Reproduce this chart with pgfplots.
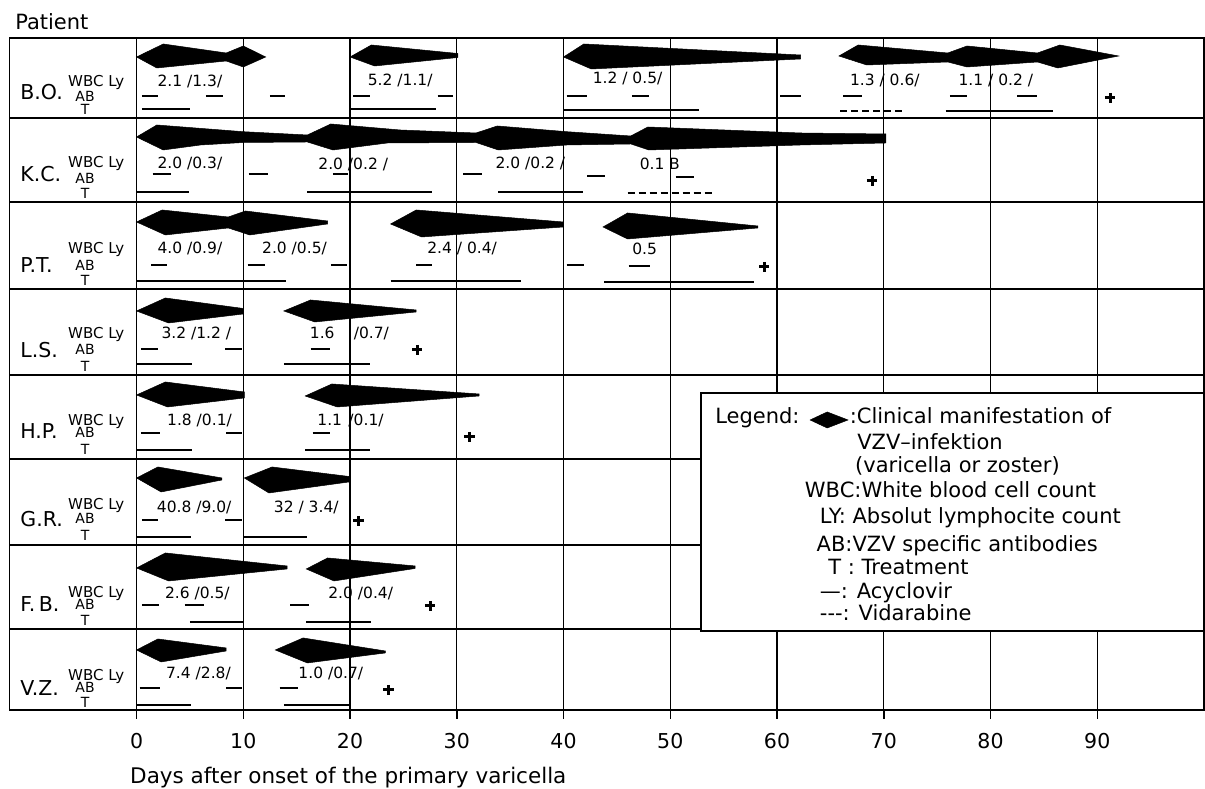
\documentclass[border=0pt]{standalone}
\usepackage{pgfplots}
\pgfplotsset{compat=1.18}
\usepackage{fontspec}
\setmainfont{DejaVu Sans}
\newcommand\fs[1]{\fontsize{#1bp}{#1bp}\selectfont}
\pgfplotsset{
  les/.style={fill=black, draw=black, line width=0.5bp, mark=none},
  seg/.style={black, line width=2.9bp, mark=none, unbounded coords=jump},
  vid/.style={black, line width=2.9bp, mark=none, dash pattern=on 7bp off 4bp},
  dead/.style={black, only marks, mark=+, mark size=5.2bp, mark options={line width=3bp}},
}
\begin{document}
\begin{tikzpicture}
\begin{axis}[
  name=ax,
  x=10.675bp, y=1bp,
  xmin=-11.92, xmax=100, ymin=-710, ymax=-38,
  clip=false,
  axis line style={line width=1.5bp},
  xtick={0,10,...,90},
  xtick pos=bottom,
  tick align=outside,
  major tick length=9bp,
  xtick style={line width=1.5bp, black},
  ytick={-629,-545,-459,-375,-289,-202,-118},
  yticklabels={},
  ytick style={draw=none},
  xmajorgrids, ymajorgrids,
  major grid style={line width=1.4bp, black},
  /pgf/number format/assume math mode=true,
  xticklabel style={font=\fs{20.5}, inner sep=0pt, yshift=-14bp},
]
% ---------------- lesions (clinical manifestation) ----------------
% B.O.
\addplot[les] coordinates {(0,-57) (2.5,-44) (8.4,-53) (10,-46) (12.1,-57) (10,-67) (8.4,-61) (1.9,-68)} --cycle;
\addplot[les] coordinates {(20,-57) (22,-45) (30.1,-53.5) (30.1,-57.5) (22.3,-66)} --cycle;
\addplot[les] coordinates {(40,-57) (41.9,-44) (62.2,-55) (62.2,-59) (42.6,-69)} --cycle;
\addplot[les] coordinates {(65.8,-56) (67.6,-45) (76,-53) (77.8,-46) (84.4,-53) (86.5,-45) (92,-56) (86.3,-68) (84.4,-62) (77.8,-67) (76,-62) (68.4,-65)} --cycle;
% K.C.
\addplot[les] coordinates {(0,-137) (1.9,-125) (10,-131.7) (16,-135) (18.2,-124) (24.7,-130) (31.8,-133) (33.8,-126) (40.3,-131.7) (46.3,-136) (47.9,-127) (62.2,-133) (70.2,-134)
  (70.2,-143) (62.2,-145) (48,-150) (46.3,-144) (40.3,-145) (33.9,-150) (31.8,-142.5) (23.5,-143) (18.4,-150) (16,-142) (10,-142.5) (6,-145) (2.5,-150)} --cycle;
% P.T.
\addplot[les] coordinates {(0,-222) (2.4,-210) (8.6,-217) (10.2,-211) (17.9,-221) (17.9,-224) (10.6,-235) (8.6,-228) (2.7,-235)} --cycle;
\addplot[les] coordinates {(23.8,-224) (26.2,-210) (40,-222) (40,-227) (26.7,-237)} --cycle;
\addplot[les] coordinates {(43.7,-227) (46,-213) (58.2,-226) (58.2,-228) (46,-239)} --cycle;
% L.S.
\addplot[les] coordinates {(0,-311) (2.7,-298) (10,-308.5) (10,-314) (3,-323)} --cycle;
\addplot[les] coordinates {(13.8,-311) (16.3,-300) (26.2,-310) (26.2,-312) (16.7,-322)} --cycle;
% H.P.
\addplot[les] coordinates {(0,-395) (2.7,-382) (10.1,-392) (10.1,-398) (2.9,-407)} --cycle;
\addplot[les] coordinates {(15.8,-396) (18.3,-384) (32.1,-394) (32.1,-396) (18.8,-407)} --cycle;
% G.R.
\addplot[les] coordinates {(0,-478) (2.0,-467) (8.0,-478) (8.0,-480) (2.3,-492)} --cycle;
\addplot[les] coordinates {(10.1,-478) (12.7,-467) (19.9,-476.5) (19.9,-482) (12.4,-493)} --cycle;
% F.B.
\addplot[les] coordinates {(0,-568) (2.7,-553) (14.1,-566) (14.1,-569) (3.0,-581)} --cycle;
\addplot[les] coordinates {(15.9,-569) (17.9,-558) (26.1,-566) (26.1,-568.5) (18.5,-581)} --cycle;
% V.Z.
\addplot[les] coordinates {(0,-650) (2.0,-639) (8.4,-648) (8.4,-651) (2.3,-662)} --cycle;
\addplot[les] coordinates {(13,-650) (15.6,-638) (23.3,-651) (23.3,-653) (16,-663)} --cycle;

% ---------------- AB determinations ----------------
\addplot[seg] coordinates {(0.5,-96) (2.0,-96) (0,nan) (6.5,-96) (8.1,-96) (0,nan) (12.5,-96) (13.9,-96) (0,nan) (20.3,-96) (21.9,-96) (0,nan) (28.2,-96) (29.6,-96) (0,nan) (40.3,-96) (42.2,-96) (0,nan) (46.4,-96) (48.0,-96) (0,nan) (60.3,-96) (62.2,-96) (0,nan) (66.2,-96) (68.0,-96) (0,nan) (76.2,-96) (77.8,-96) (0,nan) (82.5,-96) (84.4,-96)};
\addplot[seg] coordinates {(1.5,-174) (3.2,-174) (0,nan) (10.5,-174) (12.3,-174) (0,nan) (18.4,-174) (19.8,-174) (0,nan) (30.6,-174) (32.4,-174) (0,nan) (42.2,-176) (43.9,-176) (0,nan) (50.5,-177) (52.2,-177)};
\addplot[seg] coordinates {(1.4,-265) (2.9,-265) (0,nan) (10.4,-265) (12.0,-265) (0,nan) (18.2,-265) (19.7,-265) (0,nan) (26.2,-265) (27.7,-265) (0,nan) (40.3,-265) (41.9,-265) (0,nan) (46.1,-266) (48.1,-266)};
\addplot[seg] coordinates {(0.4,-349) (2.0,-349) (0,nan) (8.3,-349) (9.9,-349) (0,nan) (16.3,-349) (18.1,-349)};
\addplot[seg] coordinates {(0.4,-433) (2.2,-433) (0,nan) (8.4,-433) (9.9,-433) (0,nan) (16.5,-433) (18.1,-433)};
\addplot[seg] coordinates {(0.5,-520) (2.0,-520) (0,nan) (8.3,-520) (9.9,-520)};
\addplot[seg] coordinates {(0.5,-605) (2.1,-605) (0,nan) (4.5,-605) (6.3,-605) (0,nan) (14.4,-605) (16.2,-605)};
\addplot[seg] coordinates {(0.3,-688) (2.2,-688) (0,nan) (8.4,-688) (9.9,-688) (0,nan) (13.4,-688) (15.1,-688)};

% ---------------- treatment: acyclovir ----------------
\addplot[seg] coordinates {(0.5,-109) (5.0,-109) (0,nan) (20,-109) (28.1,-109) (0,nan) (40,-110) (52.7,-110) (0,nan) (75.8,-111) (85.9,-111)};
\addplot[seg] coordinates {(0,-192) (4.9,-192) (0,nan) (16,-192) (27.7,-192) (0,nan) (33.9,-192) (41.8,-192)};
\addplot[seg] coordinates {(0,-281) (14,-281) (0,nan) (23.8,-281) (36,-281) (0,nan) (43.8,-282) (57.8,-282)};
\addplot[seg] coordinates {(0,-364) (5.2,-364) (0,nan) (13.8,-364) (21.9,-364)};
\addplot[seg] coordinates {(0,-450) (5.2,-450) (0,nan) (15.8,-450) (21.9,-450)};
\addplot[seg] coordinates {(0,-537) (5.1,-537) (0,nan) (10.1,-537) (16,-537)};
\addplot[seg] coordinates {(5.0,-622) (10.1,-622) (0,nan) (15.9,-622) (22.0,-622)};
\addplot[seg] coordinates {(0,-705) (5.1,-705) (0,nan) (13.8,-705) (19.9,-705)};
% ---------------- treatment: vidarabine ----------------
\addplot[vid] coordinates {(65.9,-111) (71.7,-111)};
\addplot[vid] coordinates {(46,-193) (54.1,-193)};
% ---------------- death ----------------
\addplot[dead] coordinates {(91.2,-98) (68.9,-181) (58.8,-267) (26.3,-350) (31.2,-437) (20.8,-521) (27.5,-606) (23.6,-690)};

% ---------------- WBC / Ly values ----------------
\begin{scope}[every node/.style={font=\fs{15.5}, anchor=base, inner sep=0pt}]
\node at (axis cs:5.0,-86.5) {2.1 /1.3/};
\node at (axis cs:24.7,-85.5) {5.2 /1.1/};
\node at (axis cs:46.0,-83.5) {1.2 / 0.5/};
\node at (axis cs:70.1,-85.5) {1.3 / 0.6/};
\node at (axis cs:80.5,-85.5) {1.1 / 0.2 /};
\node at (axis cs:5.0,-168.5) {2.0 /0.3/};
\node at (axis cs:20.3,-169.5) {2.0 /0.2 /};
\node at (axis cs:36.9,-168.5) {2.0 /0.2 /};
\node at (axis cs:48.3,-169.5) {0.1};
\node at (axis cs:50.4,-169.5) {B};
\node at (axis cs:5.0,-253.5) {4.0 /0.9/};
\node at (axis cs:14.8,-253.5) {2.0 /0.5/};
\node at (axis cs:30.5,-253.5) {2.4 / 0.4/};
\node at (axis cs:47.6,-254.5) {0.5};
\node at (axis cs:5.6,-338.5) {3.2 /1.2 /};
\node at (axis cs:17.4,-338.5) {1.6};
\node at (axis cs:22.0,-338.5) {/0.7/};
\node at (axis cs:5.9,-425.5) {1.8 /0.1/};
\node at (axis cs:18.1,-425.5) {1.1};
\node at (axis cs:21.5,-425.5) {/0.1/};
\node at (axis cs:5.4,-512.5) {40.8 /9.0/};
\node at (axis cs:15.9,-512.5) {32 / 3.4/};
\node at (axis cs:5.7,-598.5) {2.6 /0.5/};
\node at (axis cs:21.0,-598.5) {2.0 /0.4/};
\node at (axis cs:5.8,-678.5) {7.4 /2.8/};
\node at (axis cs:18.2,-678.5) {1.0 /0.7/};
\end{scope}

% ---------------- row labels ----------------
\begin{scope}[every node/.style={inner sep=0pt}]
\node[font=\fs{20.5}, anchor=base west] at (axis cs:-10.9,-99.3) {B.O.};
\node[font=\fs{15}, anchor=base west] at (axis cs:-6.42,-86.3) {WBC Ly};
\node[font=\fs{14}, anchor=base] at (axis cs:-4.82,-102) {AB};
\node[font=\fs{14}, anchor=base] at (axis cs:-4.82,-115) {T};

\node[font=\fs{20.5}, anchor=base west] at (axis cs:-10.9,-181.3) {K.C.};
\node[font=\fs{15}, anchor=base west] at (axis cs:-6.42,-167.3) {WBC Ly};
\node[font=\fs{14}, anchor=base] at (axis cs:-4.82,-184) {AB};
\node[font=\fs{14}, anchor=base] at (axis cs:-4.82,-199) {T};

\node[font=\fs{20.5}, anchor=base west] at (axis cs:-10.9,-272.3) {P.T.};
\node[font=\fs{15}, anchor=base west] at (axis cs:-6.42,-253.3) {WBC Ly};
\node[font=\fs{14}, anchor=base] at (axis cs:-4.82,-271) {AB};
\node[font=\fs{14}, anchor=base] at (axis cs:-4.82,-286) {T};

\node[font=\fs{20.5}, anchor=base west] at (axis cs:-10.9,-357.3) {L.S.};
\node[font=\fs{15}, anchor=base west] at (axis cs:-6.42,-338.3) {WBC Ly};
\node[font=\fs{14}, anchor=base] at (axis cs:-4.82,-355) {AB};
\node[font=\fs{14}, anchor=base] at (axis cs:-4.82,-372) {T};

\node[font=\fs{20.5}, anchor=base west] at (axis cs:-10.9,-438.3) {H.P.};
\node[font=\fs{15}, anchor=base west] at (axis cs:-6.42,-425.3) {WBC Ly};
\node[font=\fs{14}, anchor=base] at (axis cs:-4.82,-438) {AB};
\node[font=\fs{14}, anchor=base] at (axis cs:-4.82,-455) {T};

\node[font=\fs{20.5}, anchor=base west] at (axis cs:-10.9,-526.3) {G.R.};
\node[font=\fs{15}, anchor=base west] at (axis cs:-6.42,-509.3) {WBC Ly};
\node[font=\fs{14}, anchor=base] at (axis cs:-4.82,-524) {AB};
\node[font=\fs{14}, anchor=base] at (axis cs:-4.82,-541) {T};

\node[font=\fs{20.5}, anchor=base west] at (axis cs:-10.9,-611.3) {F.\,B.};
\node[font=\fs{15}, anchor=base west] at (axis cs:-6.42,-597.3) {WBC Ly};
\node[font=\fs{14}, anchor=base] at (axis cs:-4.82,-610) {AB};
\node[font=\fs{14}, anchor=base] at (axis cs:-4.82,-626) {T};

\node[font=\fs{20.5}, anchor=base west] at (axis cs:-10.9,-695.3) {V.Z.};
\node[font=\fs{15}, anchor=base west] at (axis cs:-6.42,-680.3) {WBC Ly};
\node[font=\fs{14}, anchor=base] at (axis cs:-4.82,-693) {AB};
\node[font=\fs{14}, anchor=base] at (axis cs:-4.82,-708) {T};

\node[font=\fs{21}, anchor=base west] at (axis cs:-11.38,-29.3) {Patient};
\node[font=\fs{21.5}, anchor=base west] at (axis cs:-0.61,-783.3) {Days after onset of the primary varicella};
\end{scope}

% ---------------- legend ----------------
\draw[fill=white, line width=1.5bp] (axis cs:52.9,-393) rectangle (axis cs:100,-631);
\addplot[les] coordinates {(63.1,-420) (64.7,-412) (66.65,-420) (64.7,-428)} --cycle;
\begin{scope}[every node/.style={font=\fs{21}, anchor=base west, inner sep=0pt}]
\node at (axis cs:54.2,-424) {Legend:};
\node at (axis cs:66.8,-424) {:Clinical manifestation of};
\node at (axis cs:67.5,-450) {VZV--infektion};
\node at (axis cs:67.3,-473) {(varicella or zoster)};
\node at (axis cs:62.6,-498) {WBC:White blood cell count};
\node at (axis cs:64.0,-524) {LY: Absolut lymphocite count};
\node at (axis cs:63.7,-552) {AB:VZV specific antibodies};
\node at (axis cs:64.8,-575) {T : Treatment};
\node at (axis cs:64.0,-599) {—: Acyclovir};
\node at (axis cs:64.0,-621) {-{}-{}-: Vidarabine};
\end{scope}
\end{axis}
\pgfresetboundingbox
\path ([xshift=-9.3bp,yshift=-79bp]ax.south west) rectangle ([xshift=1bp,yshift=38bp]ax.north east);
\end{tikzpicture}
\end{document}
